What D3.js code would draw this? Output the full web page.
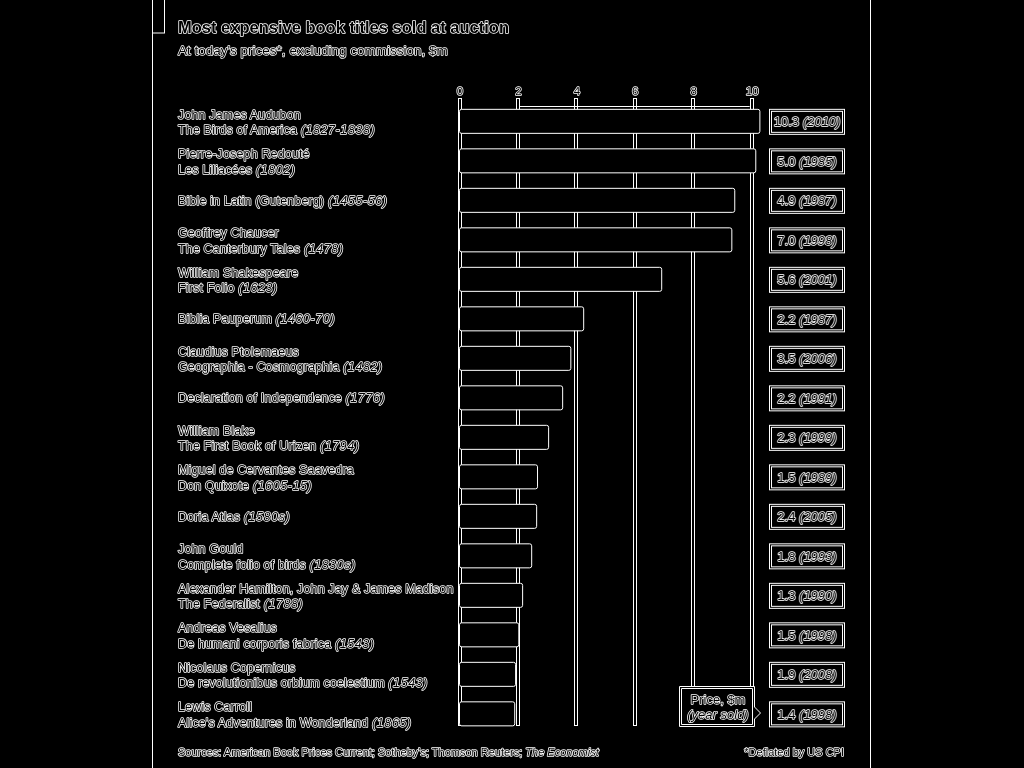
<!DOCTYPE html>
<html><head><meta charset="utf-8">
<script src="https://cdn.jsdelivr.net/npm/d3@7"></script>
<style>
html,body{margin:0;padding:0;background:#000;}
svg{display:block;filter:grayscale(1);}
text{font-family:"Liberation Sans",Arial,sans-serif;fill:#000;stroke:#fff;stroke-width:1.5px;paint-order:stroke;stroke-linejoin:round;}
</style></head>
<body><svg id="c" width="1024" height="768"></svg>
<script>
const authors = ["John James Audubon","Pierre-Joseph Redouté",null,"Geoffrey Chaucer","William Shakespeare",null,"Claudius Ptolemaeus",null,"William Blake","Miguel de Cervantes Saavedra",null,"John Gould","Alexander Hamilton, John Jay & James Madison","Andreas Vesalius","Nicolaus Copernicus","Lewis Carroll"];
const titles = ["The Birds of America","Les Liliacées","Bible in Latin (Gutenberg)","The Canterbury Tales","First Folio","Biblia Pauperum","Geographia - Cosmographia","Declaration of Independence","The First Book of Urizen","Don Quixote","Doria Atlas","Complete folio of birds","The Federalist","De humani corporis fabrica","De revolutionibus orbium coelestium","Alice's Adventures in Wonderland"];
const published = ["1827-1838","1802","1455-56","1478","1623","1460-70","1482","1776","1794","1605-15","1580s","1830s","1788","1543","1543","1865"];
const todayValues = [10.28,10.14,9.42,9.32,6.92,4.25,3.81,3.53,3.05,2.67,2.64,2.47,2.16,2.03,1.92,1.89];
const salePrices = ["10.3","5.0","4.9","7.0","5.6","2.2","3.5","2.2","2.3","1.5","2.4","1.8","1.3","1.5","1.9","1.4"];
const saleYears = ["2010","1985","1987","1998","2001","1987","2006","1991","1999","1989","2005","1993","1990","1998","2008","1998"];
const xTicks = [0,2,4,6,8,10];

const svg = d3.select("#c");
const idx = d3.range(titles.length);
const x = d3.scaleLinear().domain([0,10]).range([459.5,751.7]);
const y = d3.scaleBand().domain(idx).range([101.6,733.6]).paddingInner(0.392).paddingOuter(0.196);

// panel frame lines + tag
svg.append("line").attr("x1",152.5).attr("x2",152.5).attr("y1",0).attr("y2",768).attr("stroke","#fff");
svg.append("line").attr("x1",870.5).attr("x2",870.5).attr("y1",0).attr("y2",768).attr("stroke","#fff");
svg.append("rect").attr("x",152.5).attr("y",-2).attr("width",12).attr("height",35).attr("fill","#000").attr("stroke","#fff");

// title
svg.append("text").attr("x",178).attr("y",33).style("font-size","16.5px").style("font-weight","bold").text("Most expensive book titles sold at auction");
svg.append("text").attr("x",178).attr("y",55).style("font-size","13.5px").text("At today's prices*, excluding commission, $m");

// gridlines
const g = svg.append("g");
g.selectAll("rect.grid").data(xTicks).join("rect").attr("class","grid")
  .attr("x",d=>Math.round(x(d))-1.5).attr("y",98.5).attr("width",3).attr("height",627)
  .attr("fill","#000").attr("stroke","#fff");
svg.append("line").attr("x1",x(2)+2).attr("x2",x(10)-2).attr("y1",106.5).attr("y2",106.5).attr("stroke","#fff");

// axis labels
const ax = d3.axisTop(x).tickValues(xTicks).tickSize(0).tickFormat(d3.format("d"));
const axG = svg.append("g").attr("transform","translate(0,92)").call(ax);
axG.select(".domain").remove();
axG.selectAll("text").attr("y",0).attr("dy",0).style("font-size","11.5px").style("font-family","'Liberation Sans',Arial,sans-serif").attr("fill","#000").attr("stroke","#fff").attr("transform","translate(0,3)");

// bars
svg.append("g").selectAll("rect").data(idx).join("rect")
  .attr("x",x(0)).attr("y",i=>y(i)).attr("width",i=>x(todayValues[i])-x(0)).attr("height",y.bandwidth())
  .attr("rx",2).attr("fill","#000").attr("stroke","#fff");

// category labels
const lab = svg.append("g").selectAll("text").data(idx).join("text").attr("x",178).style("font-size","12.5px").style("letter-spacing","0.15px");
lab.each(function(i){
  const t = d3.select(this);
  const cy = y(i)+y.bandwidth()/2;
  if(authors[i]){
    t.append("tspan").attr("x",178).attr("y",cy-2.5).text(authors[i]);
    const l2 = t.append("tspan").attr("x",178).attr("y",cy+13);
    l2.text(titles[i]+" ");
    t.append("tspan").style("font-style","italic").style("letter-spacing","0.6px").text("("+published[i]+")");
  } else {
    t.append("tspan").attr("x",178).attr("y",cy+4.5).text(titles[i]+" ");
    t.append("tspan").style("font-style","italic").style("letter-spacing","0.6px").text("("+published[i]+")");
  }
});

// value boxes
const vb = svg.append("g").selectAll("g").data(idx).join("g").attr("transform",i=>`translate(0,${y(i)})`);
vb.append("rect").attr("x",769.5).attr("y",0).attr("width",75).attr("height",25).attr("fill","#000").attr("stroke","#fff");
vb.append("rect").attr("x",771.5).attr("y",2).attr("width",71).attr("height",21).attr("fill","#000").attr("stroke","#fff");
const vt = vb.append("text").attr("x",807).attr("y",17).attr("text-anchor","middle").style("font-size","13px");
vt.append("tspan").text(i=>salePrices[i]+" ");
vt.append("tspan").style("font-style","italic").text(i=>"("+saleYears[i]+")");

// key callout
const k = svg.append("g");
const kp = "M679.5,686.5 H754.5 V707 L760.5,713 L754.5,719 V726.5 H679.5 Z";
k.append("path").attr("d",kp).attr("fill","#000").attr("stroke","#fff");
k.append("path").attr("d","M681.5,688.5 H752.5 V724.5 H681.5 Z").attr("fill","#000").attr("stroke","#fff");
k.append("text").attr("x",718).attr("y",704).attr("text-anchor","middle").style("font-size","13px").text("Price, $m");
k.append("text").attr("x",718).attr("y",719).attr("text-anchor","middle").style("font-size","13px").style("font-style","italic").text("(year sold)");

// footer
const f = svg.append("text").attr("x",178).attr("y",756).style("font-size","11px");
f.append("tspan").text("Sources: American Book Prices Current; Sotheby's; Thomson Reuters; ");
f.append("tspan").style("font-style","italic").text("The Economist");
svg.append("text").attr("x",844).attr("y",756).attr("text-anchor","end").style("font-size","11px").text("*Deflated by US CPI");
</script></body></html>
